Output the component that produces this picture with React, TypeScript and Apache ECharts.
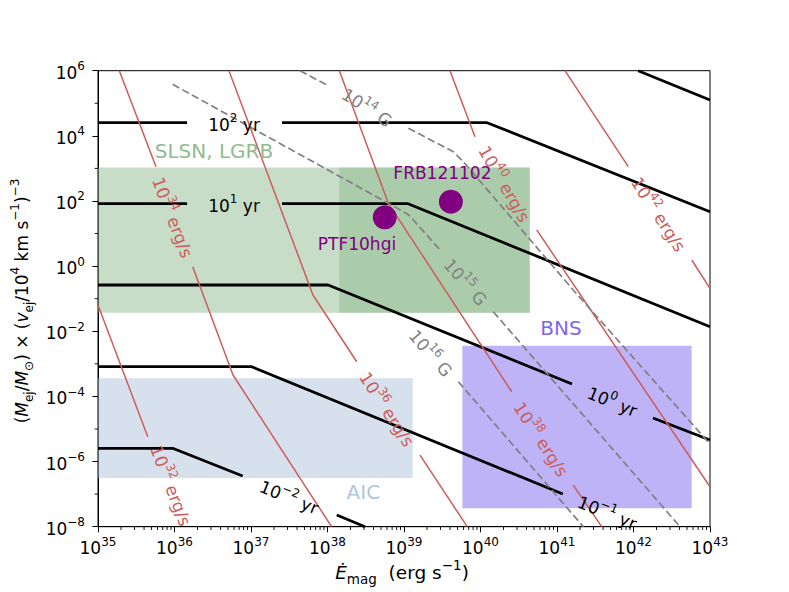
import { useEffect, useRef } from 'react';
import * as echarts from 'echarts';

type Pt = [number, number];

const FONT = 'DejaVu Sans';

// ---- axis ranges
const xRange: Pt = [1e35, 1e43];
const yRange: Pt = [1e-8, 1e6];

// ---- spin-down-time contours (black), split where their labels sit
const yr3: Pt[][] = [[[1.15e42, 1e6], [1e43, 1.26e5]]];
const yr2: Pt[][] = [
  [[1e35, 2.53e4], [1.46e36, 2.53e4]],
  [[2.54e37, 2.53e4], [1.22e40, 2.53e4], [1e43, 46.9]],
];
const yr1: Pt[][] = [
  [[1e35, 82.6], [1.46e36, 82.6]],
  [[2.54e37, 82.6], [1.13e39, 82.6], [1e43, 0.0138]],
];
const yr0: Pt[][] = [
  [[1e35, 0.263], [1.02e38, 0.263], [1.57e41, 2.4e-4]],
  [[1.8e42, 2.17e-5], [1e43, 4.58e-6]],
];
const yrM1: Pt[][] = [[[1e35, 8.17e-4], [1.02e37, 8.17e-4], [1.19e41, 1.01e-7]]];
const yrM2: Pt[][] = [
  [[1e35, 2.55e-6], [9.46e35, 2.55e-6], [7.78e36, 3.6e-7]],
  [[1.32e38, 2.29e-8], [3.09e38, 1e-8]],
];

// ---- luminosity contours (red)
const lum32: Pt[][] = [[[1e35, 0.064], [4.47e35, 5.8e-6]]];
const lum34: Pt[][] = [
  [[1.9e35, 1e6], [5.73e35, 1.13e3]],
  [[1.73e36, 0.96], [5.82e36, 4.54e-4], [1.13e38, 1e-8]],
];
const lum36: Pt[][] = [
  [[5.15e36, 1e6], [6.46e37, 0.13], [2.41e38, 1.16e-3]],
  [[1.62e39, 1.58e-6], [6.71e39, 1e-8]],
];
const lum38: Pt[][] = [
  [[1.43e38, 1e6], [6.24e38, 84.9], [2.56e40, 1.39e-4]],
  [[1.63e41, 1.9e-7], [3.84e41, 1e-8]],
];
const lum40: Pt[][] = [
  [[3.99e39, 1e6], [8.47e39, 9.42e3]],
  [[5.43e40, 12.9], [1e43, 1.69e-7]],
];
const lum42: Pt[][] = [
  [[1.27e41, 1e6], [8.55e41, 1.13e3]],
  [[5.77e42, 1.54], [1e43, 0.208]],
];

// ---- magnetic field contours (grey dashed)
const b14: Pt[][] = [
  [[4.37e37, 1e6], [1.02e38, 3.46e5]],
  [[1.14e39, 1.71e4], [4.41e39, 3.26e3], [5.96e39, 1.61e3], [1.63e41, 0.185], [1e43, 3.45e-6]],
];
const b15: Pt[][] = [
  [[9.47e35, 3.82e5], [6.24e38, 84.9], [1.16e39, 37.2], [2.96e39, 3.13]],
  [[1.47e40, 0.0398], [4.05e42, 1e-8]],
];
const b16: Pt[][] = [[[5.13e39, 2.83e-4], [2.21e41, 1e-8]]];

// ---- regions [xMin, xMax, yMin, yMax]
const slsnBox = [1e35, 4.4e40, 0.037, 1.07e3];
const lgrbBox = [1.43e38, 4.4e40, 0.037, 1.07e3];
const aicBox = [1e35, 1.3e39, 3.1e-7, 3.6e-4];
const bnsBox = [5.8e39, 5.75e42, 3.7e-8, 3.6e-3];

const regionNames = ['SLSN, LGRB', 'BNS', 'AIC'];
const regionLabelE = [3.28e36, 1.13e41, 2.94e38];
const regionLabelY = [3.43e3, 0.0126, 1.19e-7];
const regionColors = ['#8fbc8f', '#7b68ee', '#b0c4de'];

// ---- observed sources
const sourceNames = ['PTF10hgi', 'FRB121102'];
const sourceE = [5.6e38, 4.1e39];
const sourceY = [31.6, 95];
const sourceLabelE = [2.43e38, 3.18e39];
const sourceLabelY = [4.94, 748];

// ---- contour labels
const yrLabelExp = ['2', '1', '0', '−1', '−2'];
const yrLabelE = [6.0e36, 6.0e36, 5.4e41, 4.64e41, 3.21e37];
const yrLabelY = [2.53e4, 82.6, 7.74e-5, 3.03e-8, 9.06e-8];
const yrLabelRot = [0, 0, -22, -22, -22];

const lumLabelExp = ['32', '34', '36', '38', '40', '42'];
const lumLabelE = [9.42e35, 9.94e35, 6.24e38, 6.46e40, 2.15e40, 2.22e42];
const lumLabelY = [1.9e-7, 32.9, 4.32e-5, 5.18e-6, 356, 41.9];
const lumLabelRot = [-69, -69, -57, -57, -60, -57];

const bLabelExp = ['14', '15', '16'];
const bLabelE = [3.38e38, 6.61e39, 2.32e39];
const bLabelY = [8.24e4, 0.349, 2.31e-3];
const bLabelRot = [-33, -49, -49];

const BLACK = '#000000';
const RED = '#cd5c5c';
const GREY = '#808080';
const PURPLE = '#800080';

const supRich = {
  b: { fontSize: 17, lineHeight: 21, verticalAlign: 'bottom', fontFamily: FONT },
  s: { fontSize: 12, lineHeight: 12, verticalAlign: 'top', fontFamily: FONT },
};

function titleRich(base: number, small: number, lh: number) {
  const common = { fontFamily: FONT, fill: '#000', color: '#000' };
  return {
    p: { ...common, fontSize: base, lineHeight: lh, verticalAlign: 'middle' },
    i: { ...common, fontSize: base, lineHeight: lh, verticalAlign: 'middle', fontStyle: 'italic' },
    sup: { ...common, fontSize: small, lineHeight: small, verticalAlign: 'top' },
    sub: { ...common, fontSize: small, lineHeight: small, verticalAlign: 'bottom' },
  };
}

function expText(v: number) {
  const e = Math.round(Math.log10(v));
  return `{b|10}{s|${e < 0 ? '−' + -e : e}}`;
}

function lineSeries(segs: Pt[][], color: string, width: number, dashed = false) {
  return segs.map((seg) => ({
    type: 'line',
    data: seg,
    symbol: 'none',
    showSymbol: false,
    silent: true,
    z: 3,
    clip: true,
    lineStyle: { color, width, opacity: 1, type: dashed ? [7.5, 3.5] : 'solid', cap: 'butt', join: 'round' },
  }));
}

function labelSeries(es: number[], ys: number[], texts: string[], rots: number[], color: string, fontSize: number) {
  return {
    type: 'scatter',
    symbol: 'circle',
    symbolSize: 1,
    silent: true,
    z: 10,
    itemStyle: { color: 'rgba(0,0,0,0)', opacity: 1 },
    label: { show: true, position: 'inside', color, opacity: 1, fontSize, fontFamily: FONT, rich: supRich },
    data: es.map((e, i) => ({ value: [e, ys[i]], label: { formatter: texts[i], rotate: rots[i] } })),
  };
}

// axis decorations: minor ticks
const minorX: number[] = [];
for (let e = 35; e < 43; e++) for (let k = 2; k <= 9; k++) minorX.push(k * Math.pow(10, e));
const minorY: number[] = [];
for (let e = -7; e <= 5; e += 2) minorY.push(Math.pow(10, e));

export default function App() {
  const ref = useRef<HTMLDivElement>(null);
  useEffect(() => {
    const chart = echarts.init(ref.current!, null, { renderer: 'svg' });
    const boxes = [slsnBox, lgrbBox, aicBox, bnsBox];
    const boxFill = ['rgba(143,188,143,0.5)', 'rgba(143,188,143,0.5)', 'rgba(176,196,222,0.5)', 'rgba(123,104,238,0.5)'];
    const option: any = {
      animation: false,
      textStyle: { fontFamily: FONT },
      grid: { left: 98, top: 70.7, width: 612, height: 456, show: true, borderColor: '#000', borderWidth: 1, backgroundColor: 'transparent' },
      xAxis: {
        type: 'log',
        logBase: 10,
        min: xRange[0],
        max: xRange[1],
        interval: 1,
        splitLine: { show: false },
        axisLine: { show: true, lineStyle: { color: '#000', width: 1 } },
        axisTick: { show: true, length: 5.6, lineStyle: { color: '#000', width: 1 } },
        axisLabel: { color: '#000', margin: 9, formatter: expText, rich: supRich },
      },
      yAxis: {
        type: 'log',
        logBase: 10,
        min: yRange[0],
        max: yRange[1],
        interval: 2,
        splitLine: { show: false },
        axisLine: { show: true, lineStyle: { color: '#000', width: 1 } },
        axisTick: { show: true, length: 5.6, lineStyle: { color: '#000', width: 1 } },
        axisLabel: { color: '#000', margin: 13, formatter: expText, rich: supRich },
      },
      graphic: [
        {
          type: 'text',
          x: 22,
          y: 301,
          rotation: Math.PI / 2,
          style: {
            text: '{p|(}{i|M}{sub|ej}{p|/}{i|M}{sub|⊙}{p|) × (}{i|v}{sub|ej}{p|/10}{sup|4}{p| km s}{sup|−1}{p|)}{sup|−3}',
            rich: titleRich(17, 12, 26),
            align: 'center',
            verticalAlign: 'middle',
            fill: '#000',
            fontFamily: FONT,
            fontSize: 17,
          },
        },
        {
          type: 'text',
          x: 402,
          y: 572,
          style: {
            text: '{i|Ė}{sub|mag}{p|  (erg s}{sup|−1}{p|)}',
            rich: titleRich(18.5, 13.5, 28),
            align: 'center',
            verticalAlign: 'middle',
            fill: '#000',
            fontFamily: FONT,
            fontSize: 18.5,
          },
        },
      ],
      series: [
        {
          type: 'custom',
          coordinateSystem: 'cartesian2d',
          silent: true,
          z: 1,
          clip: true,
          data: boxes.map((b) => [b[0], b[2], b[1], b[3]]),
          encode: { x: [0, 2], y: [1, 3] },
          renderItem: (params: any, api: any) => {
            const p0 = api.coord([api.value(0), api.value(1)]);
            const p1 = api.coord([api.value(2), api.value(3)]);
            return {
              type: 'rect',
              shape: {
                x: Math.min(p0[0], p1[0]),
                y: Math.min(p0[1], p1[1]),
                width: Math.abs(p1[0] - p0[0]),
                height: Math.abs(p1[1] - p0[1]),
              },
              style: { fill: boxFill[params.dataIndex] },
            };
          },
        },
        ...lineSeries(yr3, BLACK, 2.8),
        ...lineSeries(yr2, BLACK, 2.8),
        ...lineSeries(yr1, BLACK, 2.8),
        ...lineSeries(yr0, BLACK, 2.8),
        ...lineSeries(yrM1, BLACK, 2.8),
        ...lineSeries(yrM2, BLACK, 2.8),
        ...lineSeries(lum32, RED, 1.5),
        ...lineSeries(lum34, RED, 1.5),
        ...lineSeries(lum36, RED, 1.5),
        ...lineSeries(lum38, RED, 1.5),
        ...lineSeries(lum40, RED, 1.5),
        ...lineSeries(lum42, RED, 1.5),
        ...lineSeries(b14, GREY, 1.7, true),
        ...lineSeries(b15, GREY, 1.7, true),
        ...lineSeries(b16, GREY, 1.7, true),
        {
          type: 'scatter',
          symbol: 'circle',
          symbolSize: 24,
          silent: true,
          z: 6,
          itemStyle: { color: PURPLE, opacity: 1 },
          data: sourceE.map((e, i) => [e, sourceY[i]]),
        },
        {
          type: 'custom',
          coordinateSystem: 'cartesian2d',
          silent: true,
          clip: false,
          z: 12,
          data: [...minorX.map((v) => [v, yRange[0], 0]), ...minorY.map((v) => [xRange[0], v, 1])],
          encode: { x: 0, y: 1 },
          renderItem: (params: any, api: any) => {
            const p = api.coord([api.value(0), api.value(1)]);
            const horiz = api.value(2) === 1;
            return {
              type: 'line',
              shape: horiz
                ? { x1: p[0], y1: p[1], x2: p[0] - 3.3, y2: p[1] }
                : { x1: p[0], y1: p[1], x2: p[0], y2: p[1] + 3.3 },
              style: { stroke: '#000', lineWidth: 0.9 },
            };
          },
        },
        labelSeries(yrLabelE, yrLabelY, yrLabelExp.map((e) => `{b|10}{s|${e}}{b| yr}`), yrLabelRot, BLACK, 17),
        labelSeries(lumLabelE, lumLabelY, lumLabelExp.map((e) => `{b|10}{s|${e}}{b| erg/s}`), lumLabelRot, RED, 17),
        labelSeries(bLabelE, bLabelY, bLabelExp.map((e) => `{b|10}{s|${e}}{b| G}`), bLabelRot, GREY, 17),
        ...regionNames.map((n, i) => labelSeries([regionLabelE[i]], [regionLabelY[i]], [n], [0], regionColors[i], 20)),
        labelSeries(sourceLabelE, sourceLabelY, sourceNames, [0, 0], PURPLE, 17),
      ],
    };
    chart.setOption(option);
    return () => chart.dispose();
  }, []);
  return <div ref={ref} style={{ position: 'absolute', left: 0, top: 0, width: 789, height: 592 }} />;
}
